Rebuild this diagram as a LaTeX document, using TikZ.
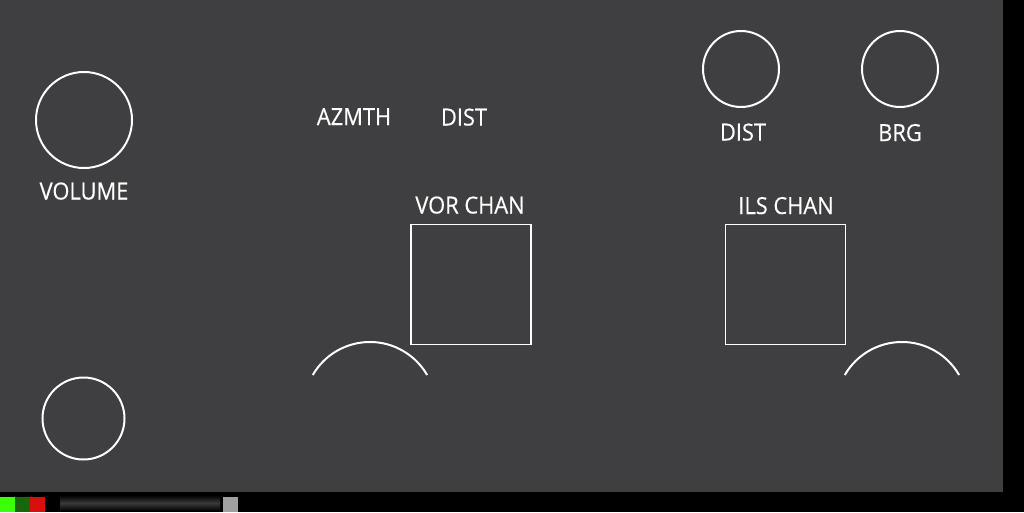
\documentclass[tikz,border=0pt]{standalone}
\usepackage{fontspec}
\setmainfont{Open Sans}
\newfontfamily\panelfont[FakeStretch=0.93,FakeBold=0.4]{Open Sans}
\definecolor{panelgray}{RGB}{63,63,65}
\definecolor{ledgreen}{RGB}{60,255,10}
\definecolor{leddark}{RGB}{26,102,12}
\definecolor{ledred}{RGB}{218,14,14}
\definecolor{ledgray}{RGB}{160,160,160}
\tikzset{
  knob/.style={circle, draw=white, line width=2pt, inner sep=0pt},
  chanbox/.style={draw=white, line width=1.8pt, minimum size=120pt, inner sep=0pt},
  lbl/.style={text=white, inner sep=0pt, anchor=base, font=\panelfont\fontsize{23.5}{23.5}\selectfont}
}
\begin{document}
\begin{tikzpicture}[x=1pt,y=-1pt]
				\useasboundingbox (0,0) rectangle (1024,512);
				\fill [black] (0,0) rectangle (1024,512);
				\fill [panelgray] (0,0) rectangle (1003,492);
				% status strip
				\fill [ledgreen] (0,497) rectangle (15,512);
				\fill [leddark] (15,497) rectangle (30,512);
				\fill [ledred] (30,497) rectangle (45,512);
				\shade [top color=black, bottom color=black, middle color=gray!45!black] (60,495) rectangle (220,511);
				\fill [ledgray] (223,497) rectangle (238,512);
				% knobs
				\node [knob, minimum size=96pt] (volknob) at (84,120) {};
				\node [lbl] (vollbl) at (84,199.5) {VOLUME};
				\node [knob, minimum size=82pt] (lowknob) at (83.5,418.5) {};
				\node [knob, minimum size=76pt] (distknob) at (741,69) {};
				\node [lbl] (distlbl) at (743,140.5) {DIST};
				\node [knob, minimum size=76pt] (brgknob) at (900,69) {};
				\node [lbl] (brglbl) at (900,141) {BRG};
				% mode labels
				\node [lbl] (azmthlbl) at (354,125) {AZMTH};
				\node [lbl] (modedist) at (464,125.5) {DIST};
				% channel windows
				\node [chanbox] (vorbox) at (471,284.5) {};
				\node [lbl] (vorlbl) at (470,213.5) {VOR CHAN};
				\node [chanbox] (ilsbox) at (785.5,284.5) {};
				\node [lbl] (ilslbl) at (786,214) {ILS CHAN};
				% half knobs
				\draw [white, line width=2pt] (312.8,375) arc [start angle=210, end angle=330, radius=66];
				\draw [white, line width=2pt] (844.8,375) arc [start angle=210, end angle=330, radius=66];
			\end{tikzpicture}
\end{document}
